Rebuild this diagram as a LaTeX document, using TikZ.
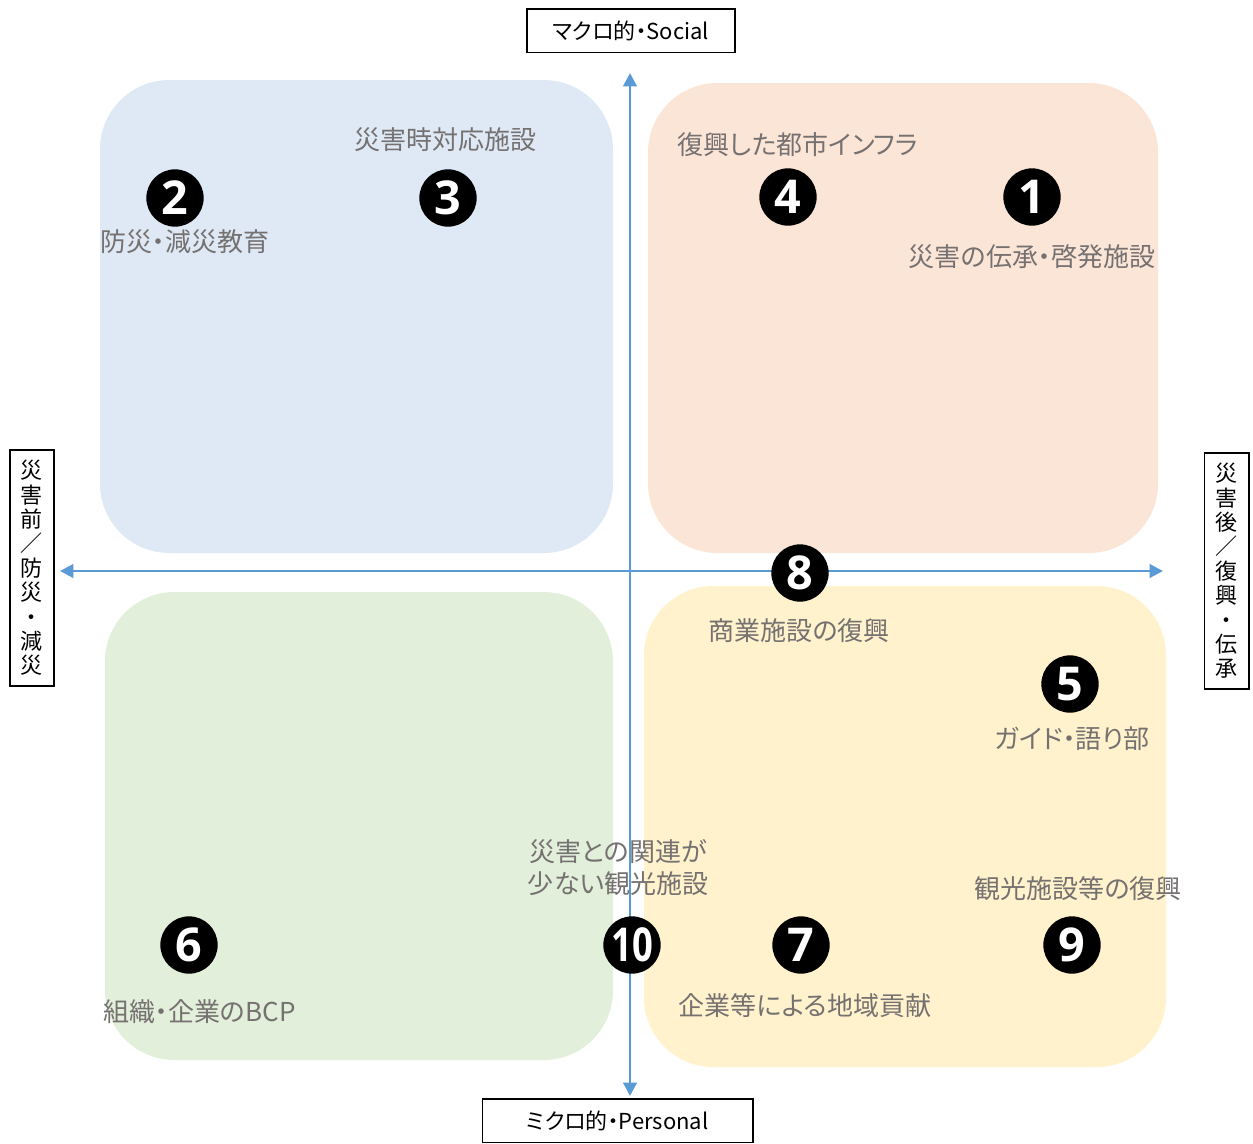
\documentclass[tikz,border=0pt]{standalone}
\usepackage{fontspec}
\setmainfont{Noto Sans CJK JP}[CharacterWidth=AlternateProportional]
\newfontfamily\numfont{Open Sans}
\usetikzlibrary{arrows.meta}
\definecolor{qblue}{HTML}{DEE9F5}
\definecolor{qorange}{HTML}{FBE5D7}
\definecolor{qgreen}{HTML}{E2EFDA}
\definecolor{qyellow}{HTML}{FFF2CC}
\definecolor{axisblue}{HTML}{5B9BD5}
\definecolor{labgray}{HTML}{767171}
\tikzset{
  quad/.style={rounded corners=52pt, draw=none},
  axisline/.style={draw=axisblue, line width=2.2pt, {Triangle[length=10pt,width=10pt]}-{Triangle[length=10pt,width=10pt]}},
  lab/.style={text=labgray, font=\fontsize{19.5pt}{24pt}\selectfont, inner sep=0pt, align=center},
  numc/.style={circle, fill=black, text=white, minimum size=43pt, inner sep=0pt, font=\numfont\bfseries\fontsize{35pt}{35pt}\selectfont},
  axbox/.style={draw=black, line width=1pt, fill=white, inner sep=0pt, font=\fontsize{16.5pt}{20pt}\selectfont},
  vbox/.style={draw=black, line width=1pt, fill=white, inner sep=0pt, align=center, font=\fontsize{16.5pt}{18.3pt}\selectfont}
}
\begin{document}
\begin{tikzpicture}[x=0.75pt, y=-0.75pt]
\useasboundingbox (0,0) rectangle (1253,1143);
% quadrants
\fill[qblue, quad] (100,80) rectangle (613,553);
\fill[qorange, quad] (648,83) rectangle (1158,553);
\fill[qgreen, quad] (105,592) rectangle (613,1060);
\fill[qyellow, quad] (644,586) rectangle (1166,1067);
% axes
\coordinate (ytop) at (630,73);
\coordinate (ybot) at (630,1096);
\coordinate (xleft) at (60,571);
\coordinate (xright) at (1163,571);
\draw[axisline] (ybot) -- (ytop);
\draw[axisline] (xleft) -- (xright);
% axis label boxes
\node[axbox, minimum width=156pt, minimum height=32.5pt] (social) at (631,30.5) {マクロ的・Social};
\node[axbox, minimum width=203pt, minimum height=32.5pt] (personal) at (617.5,1120.5) {ミクロ的・Personal};
\node[vbox, minimum width=33pt, minimum height=177pt] (before) at (32,568) {災\\害\\前\\／\\防\\災\\・\\減\\災};
\node[vbox, minimum width=33.5pt, minimum height=177pt] (after) at (1226.5,571) {災\\害\\後\\／\\復\\興\\・\\伝\\承};
% labels
\node[lab] (l3) at (445,140) {災害時対応施設};
\node[lab, anchor=west] (l2) at (100,242) {防災・減災教育};
\node[lab] (l4) at (798,145) {復興した都市インフラ};
\node[lab] (l1) at (1032,257) {災害の伝承・啓発施設};
\node[lab] (l8) at (799,631) {商業施設の復興};
\node[lab] (l5) at (1072,739) {ガイド・語り部};
\node[lab] (l10) at (618,868) {災害との関連が\\少ない観光施設};
\node[lab] (l9) at (1078,889) {観光施設等の復興};
\node[lab, anchor=west] (l6) at (103,1012) {組織・企業のBCP};
\node[lab] (l7) at (805,1006) {企業等による地域貢献};
% numbered circles
\node[numc] (n1) at (1032,197) {1};
\node[numc] (n2) at (175,198) {2};
\node[numc] (n3) at (448,198) {3};
\node[numc] (n4) at (788,197) {4};
\node[numc] (n5) at (1070,684) {5};
\node[numc] (n6) at (189,945) {6};
\node[numc] (n7) at (801,945) {7};
\node[numc] (n8) at (800,573) {8};
\node[numc] (n9) at (1072,945) {9};
\node[numc] (n10) at (632,945) {\scalebox{0.78}[1]{10}};
\end{tikzpicture}
\end{document}
